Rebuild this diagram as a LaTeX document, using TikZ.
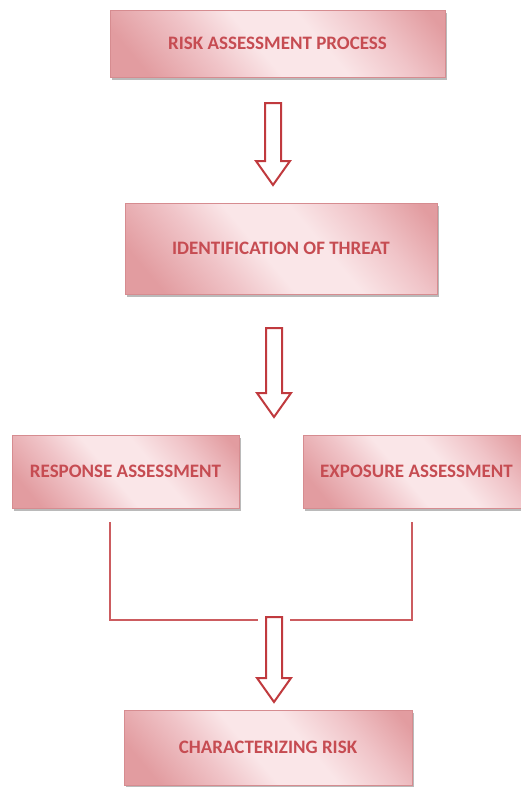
\documentclass[tikz,border=0pt]{standalone}
\usepackage{fontspec}
\setmainfont{Carlito}
\usetikzlibrary{shadows}

\definecolor{boxdark}{RGB}{226,156,160}
\definecolor{boxlight}{RGB}{250,230,232}
\definecolor{boxmid}{RGB}{240,196,200}
\definecolor{boxedge}{RGB}{214,140,144}
\definecolor{labelred}{RGB}{198,76,82}
\definecolor{arrowred}{RGB}{192,58,62}
\definecolor{linered}{RGB}{204,92,96}

\pgfdeclarehorizontalshading{pinkband}{100bp}{%
  color(0bp)=(boxdark); color(22bp)=(boxdark); color(36bp)=(boxmid);
  color(46bp)=(boxlight); color(58bp)=(boxlight); color(70bp)=(boxmid);
  color(82bp)=(boxdark); color(100bp)=(boxdark)}

\tikzset{
  stagebox/.style={draw=boxedge, line width=0.8pt, shading=pinkband,
    shading angle=40, inner sep=0pt,
    drop shadow={shadow xshift=2pt, shadow yshift=-2.5pt, fill=black!45, opacity=0.6},
    font=\fontsize{19}{22}\selectfont\bfseries, text=labelred},
  blockarrow/.style={draw=arrowred, line width=2pt, fill=white, line join=miter},
  joinline/.style={draw=linered, line width=1.3pt}
}

% hollow downward block arrow: centre x, top y, tip y
\newcommand{\downblock}[3]{%
  \path[blockarrow] (#1-8,#2) -- (#1+8,#2) -- (#1+8,#3-24) -- (#1+17,#3-24)
    -- (#1,#3) -- (#1-17,#3-24) -- (#1-8,#3-24) -- cycle;}

\begin{document}
\begin{tikzpicture}[x=1pt, y=-1pt]
  \useasboundingbox (0,0) rectangle (521,787);
  \clip (0,0) rectangle (521,787);

  \node[stagebox, minimum width=335pt, minimum height=67pt] (process) at (277.5,43.5)
    {RISK ASSESSMENT PROCESS};
  \node[stagebox, minimum width=312pt, minimum height=91pt] (threat) at (281,248.5)
    {IDENTIFICATION OF THREAT};
  \node[stagebox, minimum width=227pt, minimum height=73pt] (response) at (125.5,471.5)
    {RESPONSE ASSESSMENT};
  \node[stagebox, minimum width=227pt, minimum height=73pt] (exposure) at (416.5,471.5)
    {EXPOSURE ASSESSMENT};
  \node[stagebox, minimum width=288pt, minimum height=75pt] (risk) at (268,747.5)
    {CHARACTERIZING RISK};

  % block arrows between the stages
  \downblock{273}{103}{185}
  \downblock{274}{328}{417}
  \downblock{274}{617}{702}

  % the two assessments join above the last arrow
  \coordinate (respfoot) at (110,522);
  \coordinate (expfoot) at (412,522);
  \coordinate (joinL) at (258,620);
  \coordinate (joinR) at (290,620);
  \draw[joinline] (respfoot) |- (joinL);
  \draw[joinline] (expfoot) |- (joinR);
\end{tikzpicture}
\end{document}
